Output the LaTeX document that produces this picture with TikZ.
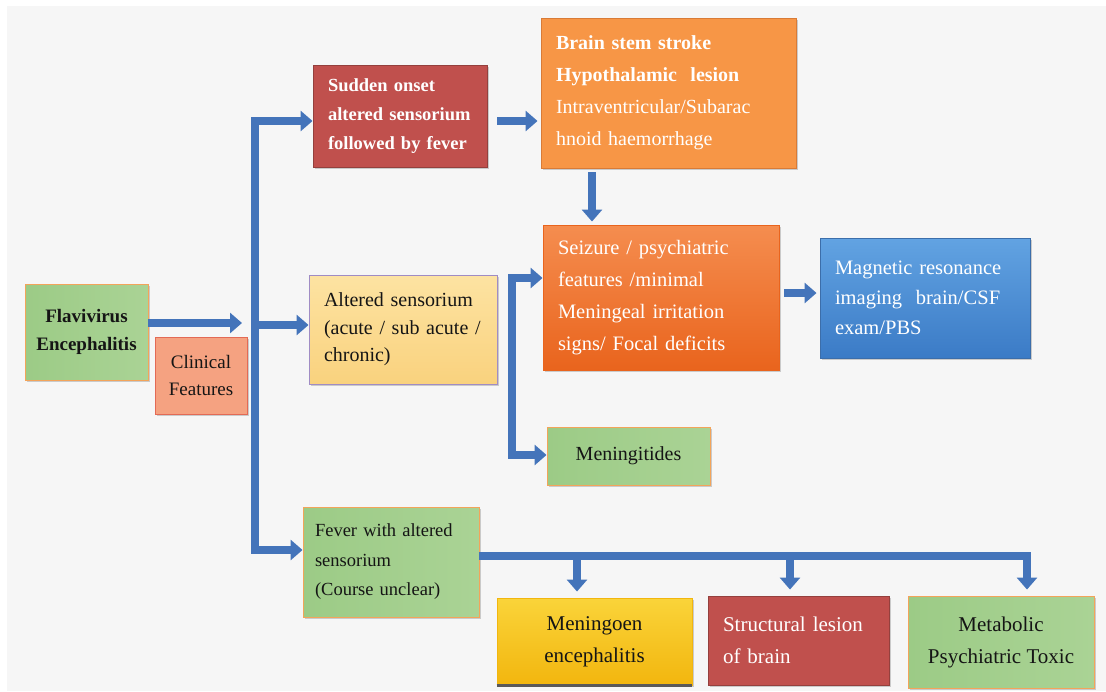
\documentclass[tikz,border=0pt]{standalone}
\usepackage{fontspec}
\setmainfont{Liberation Serif}
\usetikzlibrary{arrows.meta,shadows}
\definecolor{bgc}{HTML}{F6F6F6}
\definecolor{arrowblue}{HTML}{4474BA}
\definecolor{grnA}{HTML}{9CCB86}
\definecolor{grnB}{HTML}{AAD395}
\definecolor{orgline}{HTML}{F3A45A}
\definecolor{salmon}{HTML}{F5A281}
\definecolor{salmonline}{HTML}{E36A55}
\definecolor{redbox}{HTML}{C0504D}
\definecolor{redline}{HTML}{94403D}
\definecolor{orangebox}{HTML}{F79646}
\definecolor{orangeline}{HTML}{D97B36}
\definecolor{seizA}{HTML}{F58D4F}
\definecolor{seizB}{HTML}{E9641D}
\definecolor{mriA}{HTML}{62A3E2}
\definecolor{mriB}{HTML}{3B7BC6}
\definecolor{mriline}{HTML}{3C6EAA}
\definecolor{yelA}{HTML}{FDE3A2}
\definecolor{yelB}{HTML}{F9D27E}
\definecolor{purpline}{HTML}{A08CC4}
\definecolor{goldA}{HTML}{FAD43A}
\definecolor{goldB}{HTML}{F2B60E}
\definecolor{txt}{HTML}{151515}
\begin{document}
\begin{tikzpicture}[x=1pt,y=-1pt,
  box/.style={rectangle, line width=0.9pt, inner sep=0pt,
    drop shadow={shadow xshift=2pt,shadow yshift=-2pt,opacity=0.3,fill=black!60}},
  greenbox/.style={box, draw=orgline, left color=grnA, right color=grnB, text=txt},
  lbox/.style={align=left, inner xsep=15pt},
  cbox/.style={align=center},
  conn/.style={draw=arrowblue, line width=8pt, -{Triangle[width=20pt,length=12pt]}},
  connboth/.style={draw=arrowblue, line width=8pt,
    {Triangle[width=20pt,length=12pt]}-{Triangle[width=20pt,length=12pt]}},
  connline/.style={draw=arrowblue, line width=8pt}
]
\useasboundingbox (0,0) rectangle (1106,691);
\fill[bgc] (7,6) rectangle (1106,691);

% ---------- nodes ----------
\node[greenbox, cbox, minimum width=123pt, minimum height=96pt,
      font=\bfseries\fontsize{19}{28}\selectfont] (flav) at (86.5,332) {Flavivirus\\Encephalitis};
\node[box, cbox, draw=salmonline, fill=salmon, text=txt, minimum width=92pt, minimum height=77pt,
      font=\fontsize{19}{27}\selectfont] (clin) at (201,375.5) {Clinical\\Features};

\node[box, lbox, draw=redline, fill=redbox, text=white, minimum width=174pt, minimum height=102pt,
      text width=144pt, font=\bfseries\fontsize{18.5}{29}\selectfont] (sudden) at (400,116)
      {Sudden onset\\altered sensorium\\followed by fever};

\node[box, lbox, draw=orangeline, fill=orangebox, text=white, minimum width=255pt, minimum height=150pt,
      text width=225pt, font=\fontsize{20}{32}\selectfont] (brain) at (668.5,93)
      {\textbf{Brain stem stroke}\\\textbf{Hypothalamic\ \ lesion}\\Intraventricular/Subarac\\hnoid haemorrhage};

\node[box, lbox, draw=seizB, top color=seizA, bottom color=seizB, text=white, minimum width=236pt, minimum height=145pt,
      text width=206pt, font=\fontsize{20.5}{32}\selectfont] (seiz) at (661,297.5)
      {Seizure / psychiatric\\features /minimal\\Meningeal irritation\\signs/ Focal deficits};

\node[box, lbox, draw=mriline, top color=mriA, bottom color=mriB, text=white, minimum width=210pt, minimum height=120pt,
      text width=180pt, font=\fontsize{20.5}{30}\selectfont] (mri) at (925,298)
      {Magnetic resonance\\imaging\ \ brain/CSF\\exam/PBS};

\node[greenbox, cbox, minimum width=163pt, minimum height=58pt,
      font=\fontsize{20}{30}\selectfont] (menin) at (628.5,456) {Meningitides};

\node[box, lbox, draw=purpline, top color=yelA, bottom color=yelB, text=txt, minimum width=188pt, minimum height=109pt,
      text width=158pt, font=\fontsize{20}{27.5}\selectfont] (alt) at (403,329.5)
      {Altered sensorium\\(acute / sub acute /\\chronic)};

\node[greenbox, align=left, inner xsep=12pt, minimum width=176pt, minimum height=110pt,
      text width=152pt, font=\fontsize{18.5}{29.5}\selectfont] (fever) at (391,562)
      {Fever with altered\\sensorium\\(Course unclear)};

\node[box, cbox, draw=goldB, top color=goldA, bottom color=goldB, text=txt, minimum width=195pt, minimum height=87pt,
      font=\fontsize{21}{32}\selectfont] (menen) at (594.5,641.5) {Meningoen\\encephalitis};
\draw[black!65, line width=2.5pt] (menen.south west) -- (menen.south east);

\node[box, lbox, draw=redline, fill=redbox, text=white, minimum width=181pt, minimum height=89pt,
      text width=151pt, font=\fontsize{21}{32}\selectfont] (struct) at (798.5,640.5)
      {Structural lesion\\of brain};

\node[greenbox, cbox, minimum width=186pt, minimum height=92pt,
      font=\fontsize{21}{32}\selectfont] (metab) at (1001,642) {Metabolic\\Psychiatric Toxic};

% ---------- connectors ----------
\coordinate (a1e) at (242,323);
\draw[conn] (flav.east |- a1e) -- (a1e);

\coordinate (tTop) at (255,121);
\coordinate (tBot) at (255,550);
\draw[connboth] (tTop -| sudden.west) -- (tTop) -- (tBot) -- (tBot -| fever.west);
\coordinate (tMid) at (255,325);
\draw[conn] (tMid) -- (tMid -| alt.west);

\coordinate (sb) at (497,121);
\draw[conn] (sb) -- ([xshift=-3pt]sb -| brain.west);

\coordinate (bs) at (592,172);
\draw[conn] (bs) -- ([yshift=3pt]bs |- seiz.north);

\coordinate (s2t) at (512,278);
\coordinate (s2b) at (512,455);
\draw[connboth] (s2t -| seiz.west) -- (s2t) -- (s2b) -- (s2b -| menin.west);

\coordinate (sm) at (784,293);
\draw[conn] (sm) -- ([xshift=-3pt]sm -| mri.west);

\coordinate (b0) at (479,556);
\coordinate (bend) at (1031,556);
\draw[connline] (fever.east |- b0) -- (bend);
\coordinate (d1) at (577,556);
\coordinate (d2) at (790,556);
\coordinate (d3) at (1027,556);
\draw[conn] (d1) -- ([yshift=6pt]d1 |- menen.north);
\draw[conn] (d2) -- ([yshift=6pt]d2 |- struct.north);
\draw[conn] (d3) -- ([yshift=6pt]d3 |- metab.north);
\end{tikzpicture}
\end{document}
